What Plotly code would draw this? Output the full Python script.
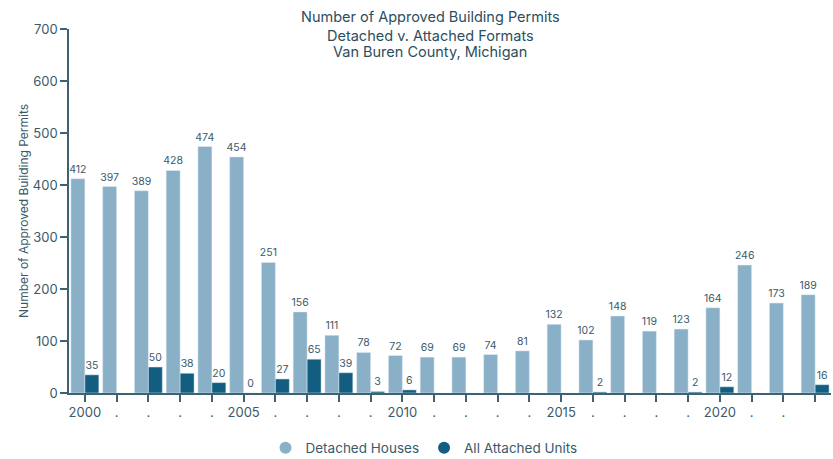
import plotly.graph_objects as go

years = [str(y) for y in range(2000, 2024)]
tick_labels = ["2000", ".", ".", ".", ".", "2005", ".", ".", ".", ".", "2010", ".", ".", ".", ".",
               "2015", ".", ".", ".", ".", "2020", ".", ".", ""]
detached = [412, 397, 389, 428, 474, 454, 251, 156, 111, 78, 72, 69, 69, 74, 81,
            132, 102, 148, 119, 123, 164, 246, 173, 189]
attached = [35, None, 50, 38, 20, 0, 27, 65, 39, 3, 6, None, None, None, None,
            None, 2, None, None, 2, 12, None, None, 16]
title_lines = ["Number of Approved Building Permits", "Detached v. Attached Formats",
               "Van Buren County, Michigan"]
y_title = "Number of Approved Building Permits"

C_DET = "#89B0C7"
C_ATT = "#135E80"
C_TXT = "#3A5A6B"
FONT = "Inter, Lato, sans-serif"

W, H = 833, 459
L, T, R, B = 69, 29, 2, 459 - 393
PH = 393 - 29


def py(screen_y):
    return (393 - screen_y) / PH


def px(screen_x):
    return (screen_x - 69) / (831 - 69)


fig = go.Figure()
fig.add_trace(go.Bar(
    x=years, y=detached, name="Detached Houses", marker_color=C_DET,
    text=detached, textposition="outside", textfont=dict(size=10.5, color=C_TXT),
    constraintext="none", cliponaxis=False, showlegend=False))
fig.add_trace(go.Bar(
    x=years, y=attached, name="All Attached Units", marker_color=C_ATT,
    text=[("" if v is None else str(v)) for v in attached], textposition="outside",
    textfont=dict(size=10.5, color=C_TXT), constraintext="none", cliponaxis=False,
    showlegend=False))
# legend entries with circular markers
for nm, col in [("Detached Houses", C_DET), ("All Attached Units", C_ATT)]:
    fig.add_trace(go.Scatter(x=[None], y=[None], mode="markers", name=nm,
                             marker=dict(symbol="circle", size=12, color=col)))

annotations = []
for txt, ys in zip(title_lines, [17, 35, 52]):
    annotations.append(dict(
        text=txt, xref="paper", yref="paper", x=px(430), xanchor="center",
        y=py(ys), yanchor="middle", showarrow=False,
        font=dict(size=14.5, color="#2C4E5E", family=FONT)))
annotations.append(dict(
    text=y_title, xref="paper", yref="paper", x=px(23), xanchor="center",
    y=py(211), yanchor="middle", textangle=-90, showarrow=False,
    font=dict(size=12, color=C_TXT, family=FONT)))

fig.update_layout(
    width=W, height=H,
    margin=dict(l=L, r=R, t=T, b=B, autoexpand=False),
    paper_bgcolor="white", plot_bgcolor="white",
    font=dict(family=FONT, color=C_TXT),
    barmode="group", bargap=0.12, bargroupgap=0.0,
    legend=dict(orientation="h", x=px(424), xanchor="center", y=py(448), yanchor="middle",
                font=dict(size=13.5, color=C_TXT), itemwidth=30, traceorder="normal"),
    annotations=annotations,
)
fig.update_xaxes(
    type="category", tickmode="array", tickvals=years, ticktext=tick_labels,
    showline=True, linecolor="#3F6272", linewidth=1.5,
    ticks="outside", ticklen=7, tickcolor="#3F6272", tickwidth=1.5,
    tickfont=dict(size=13, color=C_TXT), showgrid=False, zeroline=False)
fig.update_yaxes(
    range=[0, 700], tickvals=list(range(0, 701, 100)),
    showline=True, linecolor="#3F6272", linewidth=1.5,
    ticks="outside", ticklen=7, tickcolor="#3F6272", tickwidth=1.5,
    tickfont=dict(size=13, color=C_TXT), showgrid=False, zeroline=False)

fig.write_html("out.html", config={"displayModeBar": False},
               post_script="document.body.style.margin='0';document.body.style.overflow='hidden';")
